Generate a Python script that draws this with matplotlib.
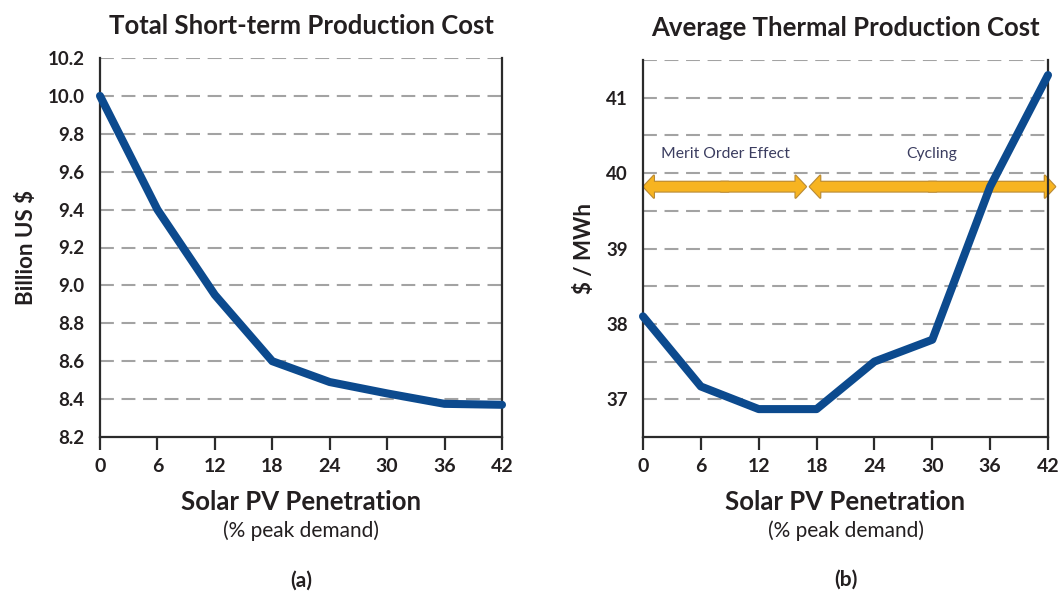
import matplotlib
matplotlib.use("Agg")
import matplotlib.pyplot as plt
from matplotlib.patches import FancyArrowPatch
import numpy as np

# Solar PV penetration (% of peak demand)
penetration = [0, 6, 12, 18, 24, 30, 36, 42]
# (a) total short-term production cost, billion US$
total_cost = [10.0, 9.40, 8.95, 8.60, 8.49, 8.43, 8.375, 8.37]
# (b) average thermal production cost, $/MWh
thermal_cost = [38.1, 37.17, 36.87, 36.87, 37.5, 37.79, 39.82, 41.3]

x_ticks = [0, 6, 12, 18, 24, 30, 36, 42]
titles = ["Total Short-term Production Cost", "Average Thermal Production Cost"]
ylabels = ["Billion US $", "$ / MWh"]
panel_tags = ["(a)", "(b)"]
regions = ["Merit Order Effect", "Cycling"]

plt.rcParams["font.family"] = ["Lato", "DejaVu Sans"]
plt.rcParams["lines.scale_dashes"] = False

LINE = "#0c4a8e"
GRID = "#a3a3a3"
SPINE = "#2b2b2b"
TEXT = "#231f20"
ORANGE = "#f7b421"
ORANGE_EDGE = "#b98a35"

fig = plt.figure(figsize=(10.62, 5.91), dpi=100)
W, H = 1062, 591

def px_axes(x0, x1, ytop, ybot):
    return fig.add_axes([x0 / W, 1 - ybot / H, (x1 - x0) / W, (ybot - ytop) / H])

ax1 = px_axes(100, 502, 58, 437)
ax2 = px_axes(643, 1048, 60, 437)

def style(ax, ylim, grid_vals, yticks, yticklabels):
    ax.set_xlim(0, 42)
    ax.set_ylim(*ylim)
    for g in grid_vals:
        ax.axhline(g, color=GRID, lw=1.5, ls=(0, (10, 5.5)), zorder=1)
    ax.set_xticks(x_ticks)
    ax.set_xticklabels([str(v) for v in x_ticks], fontsize=14, fontweight="bold", color=TEXT)
    ax.set_yticks(yticks)
    ax.set_yticklabels(yticklabels, fontsize=13.5, fontweight="bold", color=TEXT)
    ax.tick_params(axis="x", direction="out", length=9, width=1.6, color=SPINE, pad=6)
    ax.tick_params(axis="y", length=0, pad=11)
    ax.spines["top"].set_visible(False)
    for s in ["left", "bottom", "right"]:
        ax.spines[s].set_color(SPINE)
        ax.spines[s].set_linewidth(1.6)

# Panel (a)
ya = np.round(np.arange(8.2, 10.21, 0.2), 1)
style(ax1, (8.2, 10.2), ya[1:], ya, [f"{v:.1f}" for v in ya])
ax1.plot(penetration, total_cost, color=LINE, lw=5.8, solid_joinstyle="round",
         solid_capstyle="round", zorder=3, clip_on=False)

# Panel (b)
yb_grid = np.arange(37.0, 41.51, 0.5)
yb_ticks = [37, 38, 39, 40, 41]
style(ax2, (36.5, 41.5), yb_grid, yb_ticks, [str(v) for v in yb_ticks])
ax2.plot(penetration, thermal_cost, color=LINE, lw=5.8, solid_joinstyle="round",
         solid_capstyle="round", zorder=3, clip_on=False)

# Double-headed region arrows on panel (b): each is built from two filled
# halves pointing outward from the middle; outlines first, fills on top.
arrow_y = 39.82
arrow_style = "simple,head_length=7.5,head_width=16,tail_width=7"
spans = [(0.05, 16.9), (17.3, 42.75)]
for pass_no in range(2):
    for (xa, xb) in spans:
        mid = 0.5 * (xa + xb)
        for end, start in [(xa, mid + 0.4), (xb, mid - 0.4)]:
            kw = dict(arrowstyle=arrow_style, mutation_scale=1, shrinkA=0, shrinkB=0,
                      clip_on=False, transform=ax2.transData)
            if pass_no == 0:
                p = FancyArrowPatch((start, arrow_y), (end, arrow_y), facecolor=ORANGE,
                                    edgecolor=ORANGE_EDGE, lw=1.6, zorder=2, **kw)
            else:
                p = FancyArrowPatch((start, arrow_y), (end, arrow_y), facecolor=ORANGE,
                                    edgecolor="none", lw=0, zorder=2.1, **kw)
            ax2.add_patch(p)

ax2.text(8.5, 40.25, regions[0], fontsize=11.3, color="#3b3d60", ha="center", va="center", zorder=4)
ax2.text(29.9, 40.25, regions[1], fontsize=11.3, color="#3b3d60", ha="center", va="center", zorder=4)

# Titles, axis labels, panel tags
for ax, t, yl, tag in [(ax1, titles[0], ylabels[0], panel_tags[0]),
                       (ax2, titles[1], ylabels[1], panel_tags[1])]:
    ax.set_title(t, fontsize=18.5, fontweight="bold", color=TEXT, pad=17)
    ax.set_ylabel(yl, fontsize=16, fontweight="bold", color=TEXT, labelpad=8)
    ax.text(0.5, -0.172, "Solar PV Penetration", transform=ax.transAxes, ha="center",
            va="center", fontsize=18.5, fontweight="bold", color=TEXT)
    ax.text(0.5, -0.248, "(% peak demand)", transform=ax.transAxes, ha="center",
            va="center", fontsize=15, color=TEXT)
    ax.text(0.5, -0.378, tag, transform=ax.transAxes, ha="center",
            va="center", fontsize=15, fontweight="bold", color=TEXT)

fig.savefig("out.png", dpi=100, facecolor="white")
